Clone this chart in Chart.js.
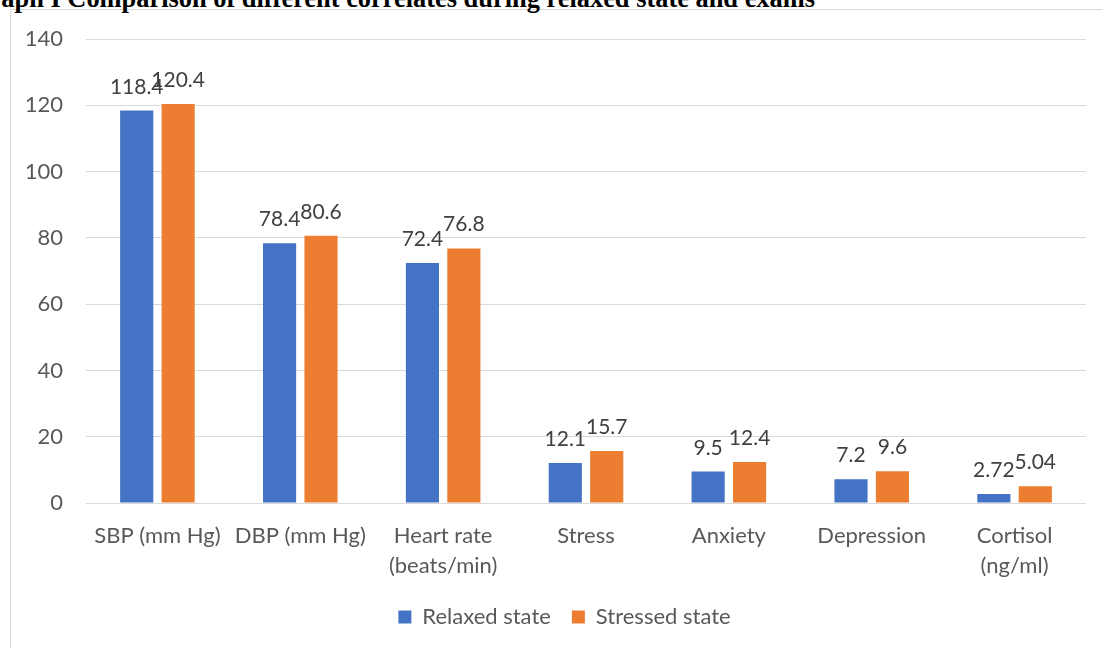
<!DOCTYPE html>
<html>
<head>
<meta charset="utf-8">
<script src="https://cdn.jsdelivr.net/npm/chart.js@4/dist/chart.umd.min.js"></script>
<style>
  html, body { margin: 0; padding: 0; background: #fff; overflow: hidden; }
  #wrap { position: relative; width: 1102px; height: 648px; overflow: hidden; }
  #frame { position: absolute; left: 10px; top: 9px; width: 1092px; height: 639px;
           border-left: 1px solid #d9d9d9; border-top: 1px solid #d9d9d9; box-sizing: border-box; }
  #title { position: absolute; right: 287px; top: -15px; white-space: nowrap;
           font: bold 26.4px/26px "Liberation Serif", "Times New Roman", serif; color: #000; }
  canvas { position: absolute; left: 0; top: 0; }
</style>
</head>
<body>
<div id="wrap">
  <div id="frame"></div>
  <div id="title">Graph I Comparison of different correlates during relaxed state and exams</div>
  <canvas id="c" width="1102" height="648"></canvas>
</div>
<script>
// Measured correlates, relaxed vs. exam period
const categories = [
  'SBP (mm Hg)',
  'DBP (mm Hg)',
  ['Heart rate', '(beats/min)'],
  'Stress',
  'Anxiety',
  'Depression',
  ['Cortisol', '(ng/ml)']
];
const relaxedState = [118.4, 78.4, 72.4, 12.1, 9.5, 7.2, 2.72];
const stressedState = [120.4, 80.6, 76.8, 15.7, 12.4, 9.6, 5.04];
const yTicks = [0, 20, 40, 60, 80, 100, 120, 140];

const FONT = '"Lato", "Open Sans", "Liberation Sans", sans-serif';

// Writes each bar's value just above it
const valueLabels = {
  id: 'valueLabels',
  afterDatasetsDraw(chart) {
    const ctx = chart.ctx;
    ctx.save();
    ctx.font = '21px ' + FONT;
    ctx.fillStyle = '#404040';
    ctx.textAlign = 'center';
    ctx.textBaseline = 'alphabetic';
    chart.data.datasets.forEach((ds, i) => {
      const meta = chart.getDatasetMeta(i);
      meta.data.forEach((bar, j) => {
        ctx.fillText(String(ds.data[j]), bar.x, bar.y - 17);
      });
    });
    ctx.restore();
  }
};

new Chart(document.getElementById('c'), {
  type: 'bar',
  data: {
    labels: categories,
    datasets: [
      { label: 'Relaxed state', data: relaxedState, backgroundColor: '#4472C4' },
      { label: 'Stressed state', data: stressedState, backgroundColor: '#ED7D31' }
    ]
  },
  options: {
    responsive: false,
    animation: false,
    devicePixelRatio: 1,
    categoryPercentage: 0.58,
    barPercentage: 0.8,
    layout: { padding: { left: 27, right: 0, top: 39, bottom: 10 } },
    plugins: {
      tooltip: { enabled: false },
      legend: {
        position: 'bottom',
        labels: {
          boxWidth: 13,
          boxHeight: 13,
          padding: 21,
          color: '#595959',
          font: { family: FONT, size: 22 }
        }
      }
    },
    scales: {
      x: {
        grid: { display: false },
        border: { display: false },
        ticks: {
          color: '#595959',
          padding: 10,
          maxRotation: 0,
          autoSkip: false,
          font: { family: FONT, size: 22, lineHeight: 1.364 }
        },
        afterFit(scale) { scale.height = 82; }
      },
      y: {
        min: 0,
        max: 140,
        grid: { color: '#d9d9d9', lineWidth: 1, drawTicks: false },
        border: { display: false },
        afterBuildTicks(scale) { scale.ticks = yTicks.map(v => ({ value: v })); },
        ticks: {
          color: '#595959',
          padding: 23,
          font: { family: FONT, size: 22 }
        },
        afterFit(scale) { scale.width = 59; }
      },
      // empty right-hand margin beside the plot
      yRight: {
        position: 'right',
        grid: { display: false },
        border: { display: false },
        ticks: { display: false },
        afterFit(scale) { scale.width = 16; }
      }
    }
  },
  plugins: [valueLabels]
});
</script>
</body>
</html>
